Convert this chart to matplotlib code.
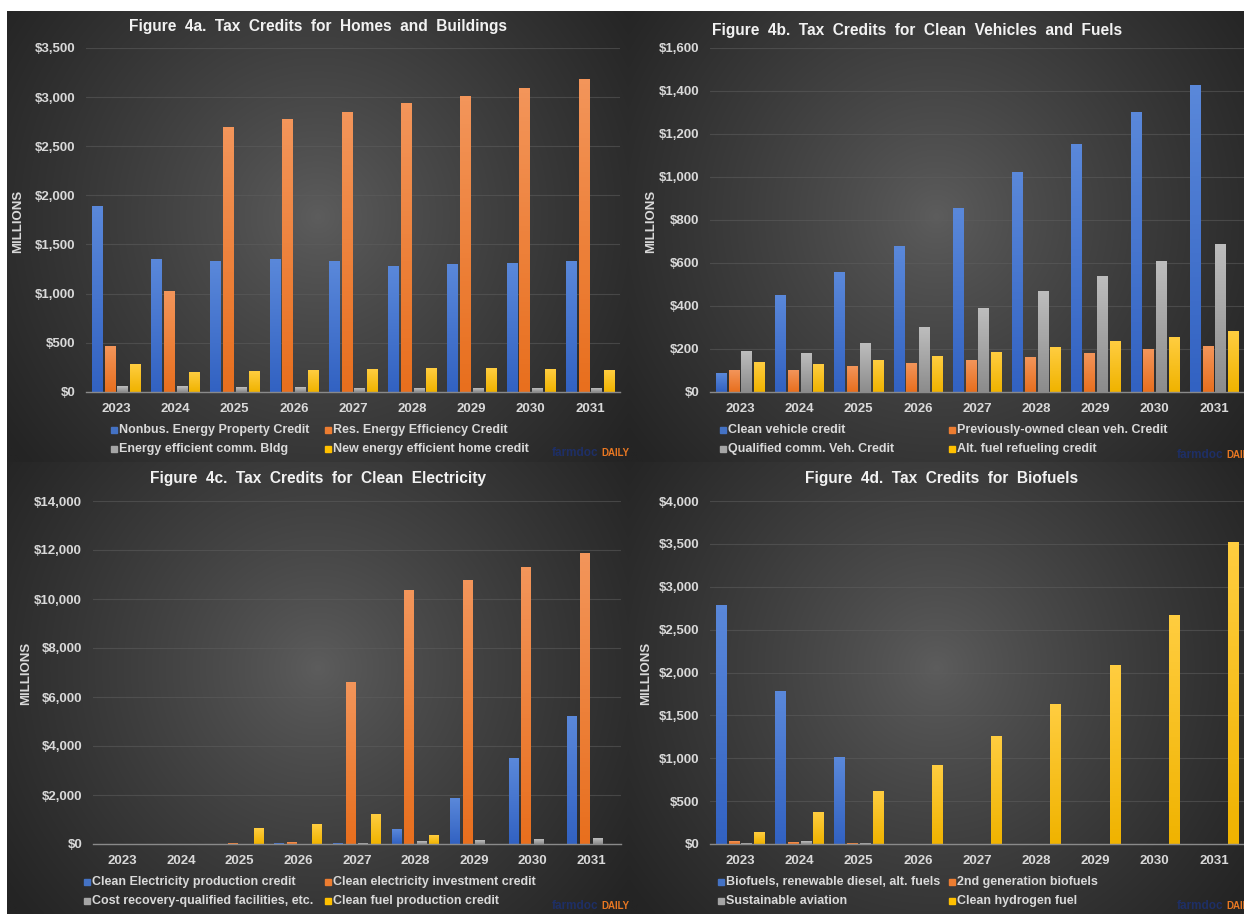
import numpy as np
import matplotlib.pyplot as plt
from matplotlib.patches import Rectangle
from matplotlib.colors import LinearSegmentedColormap, to_rgb

W, H = 1244, 914

years = ['2023', '2024', '2025', '2026', '2027', '2028', '2029', '2030', '2031']

# Figure 4a - homes and buildings ($ millions)
homes_labels = ['Nonbus. Energy Property Credit', 'Res. Energy Efficiency Credit',
                'Energy efficient comm. Bldg', 'New energy efficient home credit']
homes_nonbus = [1885, 1350, 1325, 1350, 1325, 1275, 1300, 1310, 1325]
homes_res = [460, 1020, 2690, 2770, 2845, 2935, 3010, 3090, 3180]
homes_comm = [58, 51, 44, 44, 37, 37, 31, 31, 31]
homes_new = [275, 194, 207, 214, 228, 241, 241, 228, 221]

# Figure 4b - clean vehicles and fuels
veh_labels = ['Clean vehicle credit', 'Previously-owned clean veh. Credit',
              'Qualified comm. Veh. Credit', 'Alt. fuel refueling credit']
veh_clean = [85, 449, 558, 679, 853, 1022, 1153, 1300, 1429]
veh_used = [101, 98, 120, 134, 146, 162, 179, 197, 214]
veh_comm = [190, 177, 227, 298, 388, 468, 539, 606, 685]
veh_refuel = [138, 129, 146, 165, 183, 207, 233, 256, 283]

# Figure 4c - clean electricity
elec_labels = ['Clean Electricity production credit', 'Clean electricity investment credit',
               'Cost recovery-qualified facilities, etc.', 'Clean fuel production credit']
elec_prod = [0, 0, 0, 15, 27, 598, 1862, 3493, 5220]
elec_inv = [0, 0, 40, 80, 6580, 10330, 10750, 11280, 11870]
elec_cost = [0, 0, 0, 0, 27, 109, 136, 190, 217]
elec_fuel = [0, 0, 639, 802, 1196, 353, 0, 0, 0]

# Figure 4d - biofuels
bio_labels = ['Biofuels, renewable diesel, alt. fuels', '2nd generation biofuels',
              'Sustainable aviation', 'Clean hydrogen fuel']
bio_diesel = [2777, 1783, 1014, 0, 0, 0, 0, 0, 0]
bio_second = [31, 19, 8, 0, 0, 0, 0, 0, 0]
bio_aviation = [8, 27, 8, 0, 0, 0, 0, 0, 0]
bio_hydrogen = [136, 369, 614, 917, 1254, 1627, 2085, 2668, 3518]

# series colours (top, bottom of the bar gradient, legend swatch)
colors = [
    ('#5a88da', '#3262c2', '#4472c4'),
    ('#f3955a', '#e86f1e', '#ed7d31'),
    ('#bdbdbd', '#8c8c8c', '#a5a5a5'),
    ('#ffcd40', '#f0b300', '#ffc000'),
]

TXT = '#d9d9d9'
FONT = 'Liberation Sans'

panels = [
    dict(title='Figure  4a.  Tax  Credits  for  Homes  and  Buildings',
         series=[homes_nonbus, homes_res, homes_comm, homes_new], labels=homes_labels,
         bg=(7, 11, 629, 462), ax=(86.4, 48, 619.6, 391.7), ymax=3500, step=500,
         title_xy=(318, 27), ylab_xy=(18, 221), leg_x=(111, 325), leg_y=(430, 449),
         mark_xy=(552, 453)),
    dict(title='Figure  4b.  Tax  Credits  for  Clean  Vehicles  and  Fuels',
         series=[veh_clean, veh_used, veh_comm, veh_refuel], labels=veh_labels,
         bg=(629, 11, 1244, 462), ax=(710.4, 48, 1243.6, 391.7), ymax=1600, step=200,
         title_xy=(917, 31), ylab_xy=(651, 221), leg_x=(720, 949), leg_y=(430, 449),
         mark_xy=(1177, 455)),
    dict(title='Figure  4c.  Tax  Credits  for  Clean  Electricity',
         series=[elec_prod, elec_inv, elec_cost, elec_fuel], labels=elec_labels,
         bg=(7, 462, 629, 914), ax=(93.2, 501, 620.6, 844), ymax=14000, step=2000,
         title_xy=(318, 479), ylab_xy=(26, 673), leg_x=(84, 325), leg_y=(882, 901),
         mark_xy=(552, 906)),
    dict(title='Figure  4d.  Tax  Credits  for  Biofuels',
         series=[bio_diesel, bio_second, bio_aviation, bio_hydrogen], labels=bio_labels,
         bg=(629, 462, 1244, 914), ax=(710.4, 501, 1243.6, 844), ymax=4000, step=500,
         title_xy=(942, 479), ylab_xy=(646, 673), leg_x=(718, 949), leg_y=(882, 901),
         mark_xy=(1177, 906)),
]


def fx(x):
    return x / W


def fy(y):
    return 1 - y / H


fig = plt.figure(figsize=(W / 100, H / 100), dpi=100)
fig.patch.set_facecolor('white')

# dark radial-gradient backdrop behind each chart
bg_ax = fig.add_axes([0, 0, 1, 1], zorder=0)
bg_ax.set_xlim(0, W)
bg_ax.set_ylim(H, 0)
bg_ax.axis('off')
c_in = np.array(to_rgb('#5d5d5d'))
c_out = np.array(to_rgb('#242424'))
for p in panels:
    x0, y0, x1, y1 = p['bg']
    gx, gy = np.meshgrid(np.linspace(-1, 1, 300), np.linspace(-1, 1, 300))
    gx = gx * (x1 - x0) / 2
    gy = gy * (y1 - y0) / 2 + 20
    d = np.sqrt(gx ** 2 + gy ** 2) / np.hypot((x1 - x0) / 2, (y1 - y0) / 2)
    d = np.clip(d, 0, 1) ** 0.85
    img = c_in[None, None, :] * (1 - d[..., None]) + c_out[None, None, :] * d[..., None]
    bg_ax.imshow(img, extent=(x0, x1, y1, y0), aspect='auto', interpolation='bilinear')

x = np.arange(len(years))
offsets = np.array([-1.5, -0.5, 0.5, 1.5]) * 0.215
bar_w = 0.17
grad = np.linspace(0, 1, 64)[:, None]

for p in panels:
    l, t, r, b = p['ax']
    ax = fig.add_axes([fx(l), fy(b), (r - l) / W, (b - t) / H], zorder=1)
    ax.patch.set_alpha(0)

    for vals, off, (ctop, cbot, _) in zip(p['series'], offsets, colors):
        bars = ax.bar(x + off, vals, bar_w, color='none', linewidth=0)
        cmap = LinearSegmentedColormap.from_list('bar', [cbot, ctop])
        for bar in bars:
            h = bar.get_height()
            if h <= 0:
                continue
            bx = bar.get_x()
            ax.imshow(grad, extent=(bx, bx + bar.get_width(), 0, h), origin='lower',
                      cmap=cmap, aspect='auto', zorder=3)

    ax.set_xlim(-0.5, 8.5)
    ax.set_ylim(0, p['ymax'])
    ticks = np.arange(0, p['ymax'] + 1, p['step'])
    ax.set_yticks(ticks)
    ax.set_yticklabels([f'${v:,.0f}' for v in ticks])
    ax.set_xticks(x)
    ax.set_xticklabels(years)
    ax.grid(axis='y', color='#5e5e5e', linewidth=0.8, alpha=0.55)
    ax.set_axisbelow(True)
    for s in ['top', 'right', 'left']:
        ax.spines[s].set_visible(False)
    ax.spines['bottom'].set_color('#8a8a8a')
    ax.spines['bottom'].set_linewidth(1.0)
    ax.spines['bottom'].set_zorder(4)
    ax.tick_params(axis='y', length=0, pad=8, labelcolor=TXT, labelsize=9.5)
    ax.tick_params(axis='x', length=0, pad=8, labelcolor=TXT, labelsize=9.5)
    for lab in ax.get_xticklabels() + ax.get_yticklabels():
        lab.set_fontfamily(FONT)
        lab.set_fontweight('bold')

    fig.text(fx(p['title_xy'][0]), fy(p['title_xy'][1]), p['title'], ha='center', va='center',
             fontsize=11.2, fontweight='bold', color='#f2f2f2', family=FONT)
    fig.text(fx(p['ylab_xy'][0]), fy(p['ylab_xy'][1]), 'MILLIONS', rotation=90,
             ha='center', va='center', fontsize=9.5, fontweight='bold', color=TXT, family=FONT)

    # legend laid out row by row, two equal columns
    for i, lab in enumerate(p['labels']):
        lx = p['leg_x'][i % 2]
        ly = p['leg_y'][i // 2]
        fig.patches.append(Rectangle((fx(lx), fy(ly + 3)), 6 / W, 6 / H,
                                     transform=fig.transFigure, color=colors[i][2],
                                     zorder=5))
        fig.text(fx(lx + 8), fy(ly), lab, ha='left', va='center', fontsize=9,
                 fontweight='bold', color=TXT, family=FONT)

    mx, my = p['mark_xy']
    fig.text(fx(mx), fy(my), 'farmdoc', ha='left', va='center', fontsize=8.5,
             fontweight='bold', color='#1e2f66', family=FONT)
    fig.text(fx(mx + 49), fy(my), 'DAILY', ha='left', va='center', fontsize=7,
             fontweight='bold', color='#e87722', family=FONT)

fig.savefig('out.png', dpi=100)
